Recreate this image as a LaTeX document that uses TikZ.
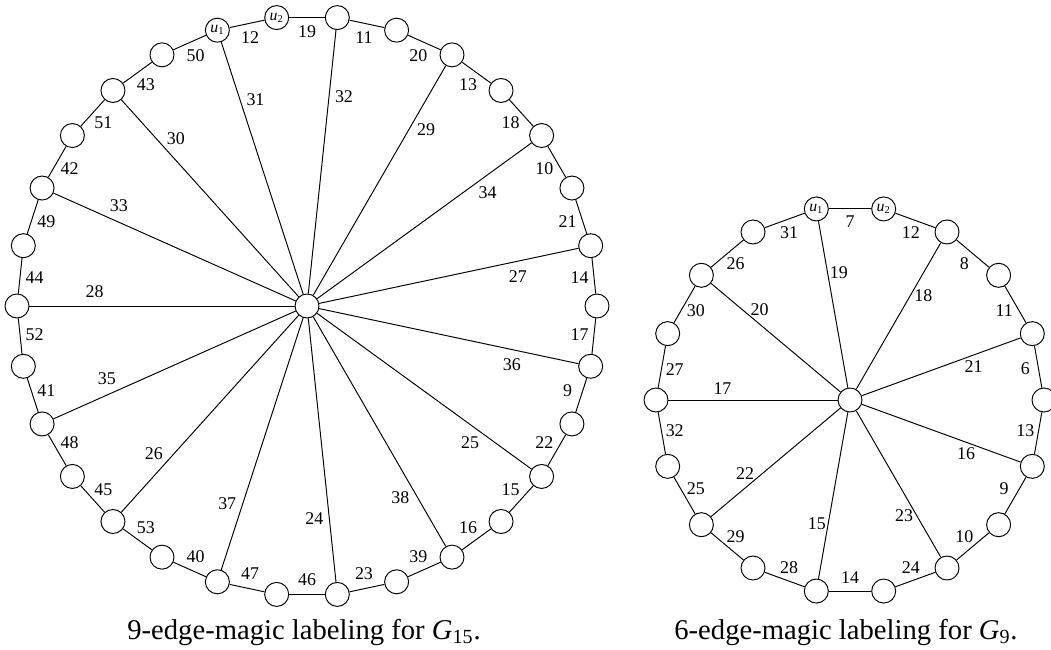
\documentclass[tikz,border=0pt]{standalone}
\usepackage{fontspec}
\setmainfont{Liberation Serif}
\usepackage{tikz}
\usetikzlibrary{calc}
\tikzset{
	vtx/.style ={circle, draw=black, fill=white, minimum size=0.48cm, inner sep=0pt, font=\fontsize{9}{9}\selectfont},
	elab/.style={inner sep=0pt, font=\fontsize{10.2}{11}\selectfont},
	capt/.style={anchor=base, inner sep=0pt, font=\fontsize{16.3}{18}\selectfont},
}

\begin{document}
\begin{tikzpicture}[x=0.02cm, y=0.02cm, line width=0.55pt]
	\useasboundingbox (0,0) rectangle (1051,649);
	% G_15 : 30 rim vertices, 15 spokes
	\begin{scope}[shift={(307,343)}]
		\node[vtx] (hubL) at (0,0) {};
		\foreach \k in {0,...,7,10,11,...,29} \node[vtx] (L\k) at (12*\k:290) {};
		\node[vtx] (L8) at (96:290) {\textit{u}\textsubscript{2}};
		\node[vtx] (L9) at (108:290) {\textit{u}\textsubscript{1}};
		\foreach \k [remember=\k as \j (initially 29)] in {0,...,29} \draw (L\j) -- (L\k);
		\foreach \k in {1,3,...,29} \draw (hubL) -- (L\k);
		\foreach \lab [count=\k from 0] in {14,21,10,18,13,20,11,19,12,50,43,51,42,49,44,52,41,48,45,53,40,47,46,23,39,16,15,22,9,17}
			\node[elab] at (12*\k+6:274) {\lab};
		\foreach \lab [count=\k from 0] in {27,34,29,32,31,30,33,28,35,26,37,24,38,25,36}
			\node[elab] at (24*\k+8:213) {\lab};
	\end{scope}
	% G_9 : 18 rim vertices, 9 spokes
	\begin{scope}[shift={(850,249)}]
		\node[vtx] (hubR) at (0,0) {};
		\foreach \k in {0,...,3,6,7,...,17} \node[vtx] (R\k) at (20*\k:194) {};
		\node[vtx] (R4) at (80:194) {\textit{u}\textsubscript{2}};
		\node[vtx] (R5) at (100:194) {\textit{u}\textsubscript{1}};
		\foreach \k [remember=\k as \j (initially 17)] in {0,...,17} \draw (R\j) -- (R\k);
		\foreach \k in {1,3,...,17} \draw (hubR) -- (R\k);
		\foreach \lab [count=\k from 0] in {6,11,8,12,7,31,26,30,27,32,25,29,28,14,24,10,9,13}
			\node[elab] at (20*\k+10:178) {\lab};
		\foreach \lab [count=\k from 0] in {21,18,19,20,17,22,15,23,16}
			\node[elab] at (40*\k+15:128) {\lab};
	\end{scope}
	\node[capt] (capL) at (304,10) {9-edge-magic labeling for \textit{G}\textsubscript{15}.};
	\node[capt] (capR) at (846,10) {6-edge-magic labeling for \textit{G}\textsubscript{9}.};
\end{tikzpicture}
\end{document}
